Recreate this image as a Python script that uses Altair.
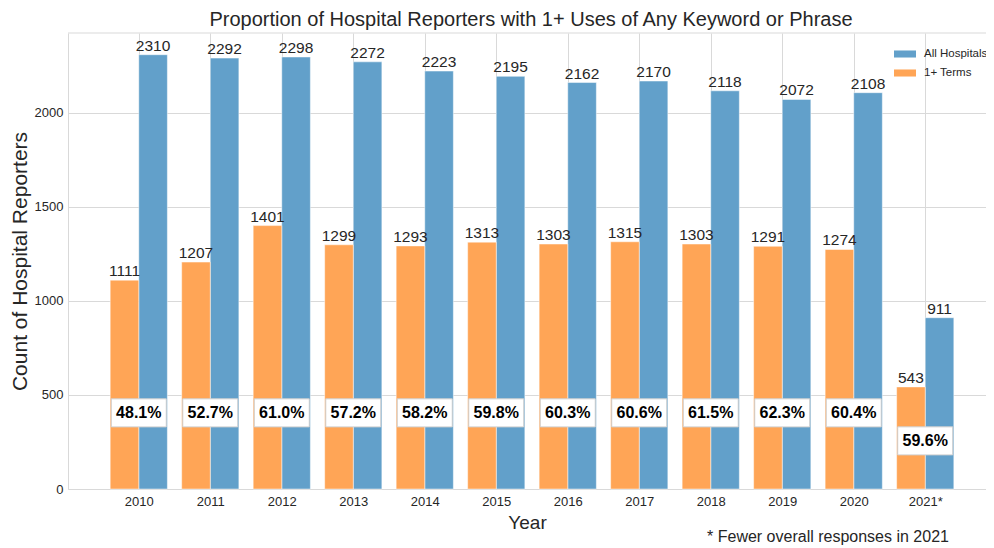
import altair as alt
import pandas as pd

# ---- data ----
years = ["2010", "2011", "2012", "2013", "2014", "2015", "2016", "2017", "2018", "2019", "2020", "2021*"]
all_hospitals = [2310, 2292, 2298, 2272, 2223, 2195, 2162, 2170, 2118, 2072, 2108, 911]
terms_counts = [1111, 1207, 1401, 1299, 1293, 1313, 1303, 1315, 1303, 1291, 1274, 543]
series_names = ["All Hospitals", "1+ Terms"]
series_colors = ["#62a0ca", "#ffa556"]
y_ticks = [0, 500, 1000, 1500, 2000]
title_text = "Proportion of Hospital Reporters with 1+ Uses of Any Keyword or Phrase"
footnote_text = "* Fewer overall responses in 2021"

Y_MAX = max(all_hospitals) * 1.05
FONT = "Liberation Sans, Arial, Helvetica, sans-serif"
TXT = "#262626"
GRID = "#d9d9d9"

df = pd.DataFrame({
    "idx": list(range(len(years))),
    "year": years,
    "total": all_hospitals,
    "terms": terms_counts,
})

label_expr = "[" + ",".join("'%s'" % y for y in years) + "][datum.value]"

x_scale = alt.Scale(domain=[-0.99, 11.85], nice=False, zero=False)
y_scale = alt.Scale(domain=[0, Y_MAX], nice=False, zero=True)

x_axis = alt.Axis(
    values=list(range(len(years))),
    labelExpr=label_expr,
    title="Year",
    grid=True,
    labelPadding=6,
    titlePadding=5,
    titleFontSize=19,
)
y_axis = alt.Axis(
    values=y_ticks,
    format="d",
    title="Count of Hospital Reporters",
    labelPadding=5,
    titlePadding=4,
    titleFontSize=21,
)

bars_base = (
    alt.Chart(df)
    .transform_fold(["total", "terms"], as_=["key", "value"])
    .transform_calculate(series="datum.key == 'total' ? 'All Hospitals' : '1+ Terms'")
    .transform_calculate(x0="datum.key == 'total' ? datum.idx : datum.idx - 0.4")
    .transform_calculate(x1="datum.key == 'total' ? datum.idx + 0.4 : datum.idx")
    .transform_calculate(xc="(datum.x0 + datum.x1) / 2")
)

bars = bars_base.mark_bar(stroke="white", strokeWidth=0.8, strokeOpacity=0.6).encode(
    x=alt.X("x0:Q", scale=x_scale, axis=x_axis),
    x2="x1:Q",
    y=alt.Y("value:Q", scale=y_scale, axis=y_axis),
    y2=alt.datum(0),
    color=alt.Color(
        "series:N",
        scale=alt.Scale(domain=series_names, range=series_colors),
        legend=alt.Legend(
            title=None,
            orient="none",
            legendX=826,
            legendY=10,
            symbolType="M-1,-0.32L1,-0.32L1,0.32L-1,0.32Z",
            symbolSize=484,
            symbolStrokeWidth=0,
            labelFont=FONT,
            labelFontSize=11.5,
            labelColor=TXT,
            labelOffset=8,
            rowPadding=2,
        ),
    ),
)

value_labels = bars_base.mark_text(
    baseline="bottom", dy=-1, font=FONT, fontSize=15.5, color=TXT
).encode(
    x=alt.X("xc:Q", scale=x_scale, axis=x_axis),
    y=alt.Y("value:Q", scale=y_scale, axis=y_axis),
    text=alt.Text("value:Q"),
)

pct_base = (
    alt.Chart(df)
    .transform_calculate(pct="format(datum.terms / datum.total * 100, '.1f') + '%'")
    .transform_calculate(label_y="datum.total < 1500 ? 256 : 405")
)

pct_box = pct_base.mark_point(
    shape="M-1,-0.51L1,-0.51L1,0.51L-1,0.51Z",
    size=3025,
    filled=True,
    fill="white",
    fillOpacity=1,
    stroke="#cfcfcf",
    strokeWidth=1,
    strokeOpacity=1,
    opacity=1,
).encode(
    x=alt.X("idx:Q", scale=x_scale, axis=x_axis),
    y=alt.Y("label_y:Q", scale=y_scale, axis=y_axis),
)

pct_text = pct_base.mark_text(
    font=FONT, fontSize=16, fontWeight="bold", color="black", baseline="middle"
).encode(
    x=alt.X("idx:Q", scale=x_scale, axis=x_axis),
    y=alt.Y("label_y:Q", scale=y_scale, axis=y_axis),
    text="pct:N",
)

top_border = alt.Chart(pd.DataFrame({"top": [Y_MAX]})).mark_rule(color=GRID, strokeWidth=1).encode(
    y=alt.Y("top:Q", scale=y_scale, axis=y_axis)
)

title_mark = alt.Chart(pd.DataFrame({"t": [title_text]})).mark_text(
    font=FONT, fontSize=20, color=TXT, baseline="alphabetic", align="center"
).encode(
    x=alt.value(463),
    y=alt.value(-7),
    text="t:N",
)

footnote = alt.Chart(pd.DataFrame({"note": [footnote_text]})).mark_text(
    font=FONT, fontSize=16, color=TXT, baseline="middle", align="center"
).encode(
    x=alt.value(760),
    y=alt.value(504),
    text="note:N",
)

chart = (
    alt.layer(bars, top_border, value_labels, pct_box, pct_text, title_mark, footnote)
    .properties(
        width=918,
        height=456,
        padding={"left": 60, "top": 25, "right": 0, "bottom": 57},
        autosize="none",
    )
    .configure_view(strokeWidth=0)
    .configure_axis(
        gridColor=GRID,
        gridWidth=1,
        domainColor=GRID,
        domainWidth=1,
        ticks=False,
        labelFont=FONT,
        labelFontSize=13,
        labelColor=TXT,
        titleFont=FONT,
        titleColor=TXT,
        titleFontWeight="normal",
    )
)

chart.save("out.html", embed_options={"renderer": "svg", "actions": False})
